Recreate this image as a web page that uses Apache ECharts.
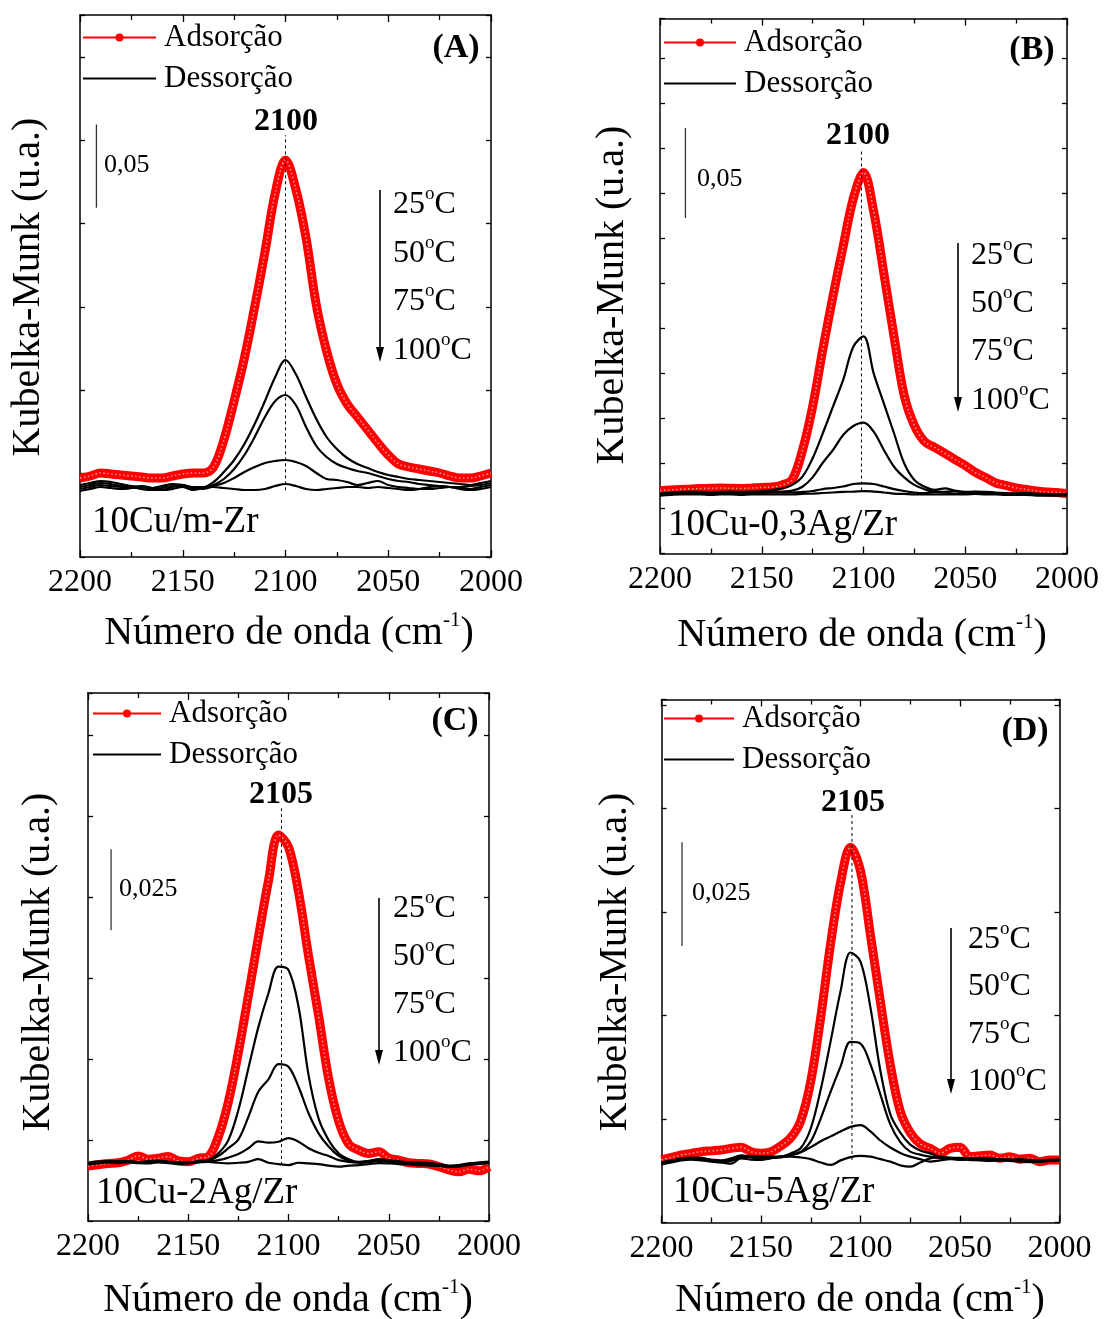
<!DOCTYPE html>
<html><head><meta charset="utf-8">
<script src="https://cdn.jsdelivr.net/npm/echarts/dist/echarts.min.js"></script>
<style>html,body{margin:0;padding:0;background:#fff}#c{width:1104px;height:1319px}</style>
</head><body><div id="c"></div>
<script>
// Wavenumber grid (cm^-1)
const wn = [2200,2195,2190,2185,2180,2175,2170,2165,2160,2155,2150,2145,2140,2135,2130,2125,2120,2115,2110,2105,2100,2095,2090,2085,2080,2075,2070,2065,2060,2055,2050,2045,2040,2035,2030,2025,2020,2015,2010,2005,2000];

// Intensities in 10^-3 Kubelka-Munk units
// (A) 10Cu/m-Zr
const adsA = [47.4,48.6,50.4,49.8,49.2,48.6,48.0,47.4,47.4,48.6,49.8,50.4,50.4,54.0,70.2,93.6,119.4,150.0,183.0,218.4,238.2,220.8,191.4,151.2,123.6,103.8,91.8,84.0,76.2,68.4,61.2,55.8,54.0,52.8,51.6,50.4,48.6,47.4,47.4,48.6,50.4];
const desA25 = [43.2,44.4,45.6,45,43.8,42.6,42,41.4,42.6,43.8,43.2,42,42,45,51,58.2,67.8,79.8,93.6,108,118.2,109.8,96,82.8,72,64.8,59.4,55.8,53.4,51,49.2,48,46.8,46.2,45.6,45,44.4,43.8,43.2,44.4,45.6];
const desA50 = [42,43.2,44.4,43.8,42.6,42,40.8,40.2,41.4,42.6,42,40.8,41.4,43.2,46.8,52.8,61.2,72,84,93.6,97.2,91.2,78,66.6,60,55.8,53.4,51.6,50.4,48.6,46.8,45.6,45,43.8,43.2,42.6,42,42,42.6,43.2,44.4];
const desA75 = [40.8,42,43.2,42.6,42,41.4,42,40.8,40.2,42,43.2,41.4,40.8,42.6,44.4,47.4,51,54,56.4,57.6,58.2,57,54.6,50.4,46.8,46.2,45,43.2,44.4,45.6,43.2,42,41.4,40.8,40.8,41.4,42,41.4,40.8,42,43.2];
const desA100 = [39.6,40.8,42,41.4,40.8,41.4,42.6,41.4,40.2,40.8,42,40.2,41.4,42,41.4,40.8,40.2,40.2,40.8,42.6,43.8,42.6,40.8,40.2,40.8,41.4,42,42,41.4,42,41.4,40.8,40.2,40.8,42,42.6,42,40.8,40.2,40.8,42];
// (B) 10Cu-0,3Ag/Zr
const adsB = [34.9,35.3,35.6,35.8,36.1,36.2,36.4,36.2,36.1,36.4,36.7,36.9,38.1,41.1,57.2,81.6,113.3,142.8,170.6,197.2,211.7,190,155.6,120.6,87.8,71.1,62.2,58.9,55.6,52.2,48.9,45,42.2,39.2,37.8,36.4,35.6,34.7,34.2,33.9,33.3];
const desB25 = [33.3,33.9,34.2,34.4,34.2,33.9,34.2,34.4,34.2,34.4,34.7,35.3,36.1,38.1,42.7,52.9,66.8,81.6,96.4,114.9,120.6,100.1,83.4,66.8,50.1,40.8,37.1,35.3,36.2,34.9,34.2,34.4,34.2,33.9,33.6,33.3,33.6,33.3,33.1,32.8,33.1];
const desB50 = [32.8,33.3,33.6,33.9,33.6,33.3,33.6,33.9,33.6,33.9,33.9,34.2,34.4,34.9,37.1,42.3,50.4,57.5,65.8,70.8,72.7,67.7,57.5,48.2,42.3,38.1,35.7,34.3,34.3,34.7,33.9,34.2,33.9,33.6,33.3,33.3,33.1,33.1,32.8,32.8,32.5];
const desB75 = [32.5,33.1,33.3,33.6,33.3,33.1,33.3,33.6,33.3,33.6,33.6,33.9,33.9,33.9,34.2,34.7,35.8,36.4,37.2,38.6,38.9,38.6,37.2,35.8,34.7,33.9,33.6,34.2,33.9,33.3,33.6,33.9,33.6,33.3,33.3,33.1,33.1,32.8,32.8,32.5,32.5];
const desB100 = [32.2,32.5,32.8,32.8,32.8,32.5,32.8,32.8,32.5,32.8,32.8,32.8,32.8,32.8,33.1,33.3,33.6,33.9,34.2,34.4,34.7,34.4,33.9,33.3,33.1,32.8,32.8,32.8,32.8,32.8,32.8,33.1,32.8,32.8,32.5,32.5,32.5,32.2,32.2,32.2,32.2];
// (C) 10Cu-2Ag/Zr
const adsC = [17.0,17.4,17.8,18.0,18.8,20.1,19.1,19.4,19.9,18.6,18.3,19.4,19.9,26.0,36.8,52.1,69.7,87.8,105.1,119.3,115.6,101.7,81.9,63.5,44.1,30.9,23.8,21.9,20.9,21.4,19.4,18.8,18.0,17.8,17.6,16.8,15.8,15.2,16.0,15.5,16.8];
const desC25 = [17.6,18.2,18.5,18.4,18.5,18.2,18.5,18.7,18.4,18.1,18.2,18.5,18.8,20.9,25.0,34.3,47.2,60.0,70.4,78.6,77.6,66.2,45.1,31.7,25.0,20.9,19.1,18.3,18.6,19.1,18.8,18.5,18.2,18.1,17.9,17.6,17.1,17.3,17.8,18.1,18.4];
const desC50 = [17.9,18.4,18.2,18.5,18.4,18.1,18.2,18.5,18.2,17.9,18.1,18.4,18.7,20.1,22.5,25.2,32.2,40.0,43.8,48.5,47.7,41.5,33.3,27.1,23.0,20.1,18.6,18.0,18.2,18.7,18.5,18.2,18.1,17.9,17.6,17.5,17.0,17.1,17.6,17.9,18.2];
const desC75 = [17.8,18.1,18.4,18.2,18.4,18.2,18.1,18.4,18.1,17.8,17.9,18.2,18.3,18.8,19.6,20.7,22.5,24.6,24.2,24.5,25.6,24.5,22.5,21.1,20.1,18.8,18.3,18.1,18.4,18.5,18.4,18.1,17.9,17.8,17.5,17.3,16.8,17.0,17.5,17.8,18.1];
const desC100 = [17.5,17.8,18.1,17.9,18.1,17.9,17.8,18.1,17.9,17.6,17.8,18.1,18.3,18.0,17.8,18.0,18.3,19.1,18.0,17.6,17.3,18.0,17.8,17.6,17.1,16.8,17.1,17.3,17.6,17.9,17.8,17.6,17.5,17.3,17.1,17.0,16.7,16.8,17.3,17.6,17.9];
// (D) 10Cu-5Ag/Zr
const adsD = [15.1,15.7,16.3,16.7,17.1,17.3,17.5,17.9,18.2,17.1,16.7,17.1,18.5,20.5,24.6,34.1,49.5,67.4,82.1,90.6,84.9,69.4,53.3,38.0,26.8,21.7,19.0,17.9,16.7,17.9,18.2,15.9,16.1,16.3,15.5,15.9,15.3,15.5,14.7,15.1,15.1];
const desD25 = [14.5,15.0,15.5,15.7,15.6,15.2,15.0,15.5,16.2,15.9,15.7,15.8,15.9,16.7,18.0,22.7,32.1,43.8,55.9,65.2,63.0,51.9,36.6,26.1,21.7,18.8,17.4,16.7,15.9,15.7,15.6,15.5,15.6,15.5,15.3,15.2,15.3,15.1,15.0,15.1,15.2];
const desD50 = [14.2,14.7,15.2,15.5,15.3,15.0,14.7,15.2,15.9,15.7,15.5,15.6,15.7,16.2,17.0,19.6,25.1,31.6,37.7,43.6,43.2,38.2,30.9,23.7,19.4,17.1,16.4,15.9,15.6,15.5,15.2,15.3,15.2,15.1,15.0,15.1,15.0,14.9,14.7,14.9,15.0];
const desD75 = [14.0,14.5,15.0,15.2,15.0,14.7,14.5,14.9,15.5,15.2,15.1,15.5,15.9,16.4,17.0,18.2,19.6,20.8,22.0,23.1,23.5,22.0,19.8,18.1,16.8,15.9,15.3,14.7,15.0,15.3,15.2,15.1,15.0,14.9,15.0,14.9,14.7,14.6,14.7,14.9,15.0];
const desD100 = [14.3,14.7,15.3,15.5,15.3,15.1,14.5,14.2,15.7,16.1,15.9,15.9,15.9,15.9,15.7,15.3,14.5,13.9,15.0,15.8,16.1,15.9,15.3,14.7,13.8,13.5,14.5,15.5,15.7,15.5,15.2,15.5,15.3,15.1,15.2,15.0,15.1,14.9,14.7,15.0,15.2];

const panelLetters = ['(A)','(B)','(C)','(D)'];
const sampleNames = ['10Cu/m-Zr','10Cu-0,3Ag/Zr','10Cu-2Ag/Zr','10Cu-5Ag/Zr'];
const peakLabels = ['2100','2100','2105','2105'];
const peakWn = [2100, 2101, 2103.5, 2104.3];
const scaleLen = [50, 50, 25, 25];
const scaleLabels = ['0,05','0,05','0,025','0,025'];
const temps = ['25','50','75','100'];
const legendNames = ['Adsorção','Dessorção'];
const xTitle = 'Número de onda (cm';
const yTitle = 'Kubelka-Munk (u.a.)';

const adsAll = [adsA, adsB, adsC, adsD];
const desAll = [[desA25,desA50,desA75,desA100],[desB25,desB50,desB75,desB100],[desC25,desC50,desC75,desC100],[desD25,desD50,desD75,desD100]];

// Layout (pixels) and annotation anchors
const L = [
 {grid:{left:80,top:15,width:411,height:542}, ymax:325.2, yint:50, bar:[2192,209.5], peakSpan:[40,253],
  leg:{left:82,top:22,w:73}, letter:[456,48], peak:[286,122], barTxt:[104,165],
  tx:393, ty:[205,254,302,351], ax:380, ay:[190,362], sample:[92,522], yt:[28,287], xt:[289,633]},
 {grid:{left:660,top:18.5,width:407,height:535}, ymax:297.2, yint:25, bar:[2187.5,186.4], peakSpan:[35,224],
  leg:{left:663,top:27,w:72}, letter:[1032,50], peak:[858,136], barTxt:[697,179],
  tx:971, ty:[256,304,352,401], ax:958, ay:[243,412], sample:[668,525], yt:[612,295], xt:[862,635]},
 {grid:{left:88,top:693,width:401,height:528}, ymax:163.2, yint:25, bar:[2188.5,89.9], peakSpan:[17.3,127.6],
  leg:{left:92,top:698,w:68}, letter:[455,721], peak:[281,795], barTxt:[119,889],
  tx:393, ty:[909,957,1005,1053], ax:379, ay:[898,1065], sample:[96,1193], yt:[38,962], xt:[288,1300]},
 {grid:{left:661.5,top:699.5,width:398,height:523}, ymax:126.3, yint:25, bar:[2189.7,66.8], peakSpan:[15.1,98.4],
  leg:{left:663,top:703,w:70}, letter:[1025,731], peak:[853,803], barTxt:[692,893],
  tx:968, ty:[940,987,1035,1082], ax:951, ay:[928,1094], sample:[673,1192], yt:[615,962], xt:[860,1300]}
];

const FONT = 'Liberation Serif';
const grid = [], xAxis = [], yAxis = [], series = [], legend = [], graphic = [];

L.forEach((l, i) => {
  grid.push(Object.assign({containLabel:false, outerBoundsMode:'none'}, l.grid));
  const xBase = {type:'value', gridIndex:i, min:2000, max:2200, interval:50, inverse:true,
    splitLine:{show:false}, minorSplitLine:{show:false},
    axisLine:{onZero:false, lineStyle:{color:'#000', width:1.5}},
    axisTick:{inside:true, length:7, lineStyle:{color:'#000', width:1.3}},
    minorTick:{show:true, splitNumber:2, length:5, lineStyle:{color:'#000', width:1.3}}};
  xAxis.push(Object.assign({}, xBase, {position:'bottom',
    axisLabel:{show:true, fontFamily:FONT, fontSize:32, color:'#000', margin:10, showMinLabel:true, showMaxLabel:true,
      formatter: v => String(v)}}));
  xAxis.push(Object.assign({}, xBase, {position:'top', axisLabel:{show:false}}));
  const yBase = {type:'value', gridIndex:i, min:0, max:l.ymax, interval:l.yint, splitLine:{show:false},
    axisLine:{show:true, onZero:false, lineStyle:{color:'#000', width:1.5}},
    axisTick:{show:true, inside:true, length:5, lineStyle:{color:'#000', width:1.3}},
    axisLabel:{show:false}};
  yAxis.push(Object.assign({}, yBase, {position:'left'}));
  yAxis.push(Object.assign({}, yBase, {position:'right'}));

  const adsData = wn.map((x,k)=>[x, adsAll[i][k]]);
  series.push({type:'line', name:legendNames[0], xAxisIndex:2*i, yAxisIndex:2*i,
    data: adsData, smooth:0.35, symbol:'circle', symbolSize:8, showSymbol:false,
    lineStyle:{color:'#ff0000', width:9}, itemStyle:{color:'#ff0000'}, z:2, silent:true});
  // highlight texture on the marker band (same data)
  series.push({type:'line', name:'adsHi'+i, xAxisIndex:2*i, yAxisIndex:2*i,
    data: adsData, smooth:0.35, symbol:'none',
    lineStyle:{color:'rgba(255,200,200,0.75)', width:1.6, type:[1.5,2.5]}, z:2, silent:true});
  desAll[i].forEach(arr => series.push({type:'line', name:legendNames[1], xAxisIndex:2*i, yAxisIndex:2*i,
    data: wn.map((x,k)=>[x, arr[k]]), smooth:0.35, symbol:'none',
    lineStyle:{color:'#000', width:2.2}, itemStyle:{color:'#000'}, z:3, silent:true}));
  series.push({type:'line', name:'peak'+i, xAxisIndex:2*i, yAxisIndex:2*i,
    data:[[peakWn[i], l.peakSpan[0]],[peakWn[i], l.peakSpan[1]]], symbol:'none',
    lineStyle:{type:[3,3], width:1, color:'#000'}, z:4, silent:true});
  series.push({type:'line', name:'bar'+i, xAxisIndex:2*i, yAxisIndex:2*i,
    data:[[l.bar[0], l.bar[1]],[l.bar[0], l.bar[1]+scaleLen[i]]], symbol:'none',
    lineStyle:{width:1.3, color:'#333'}, z:4, silent:true});

  legend.push({orient:'vertical', left:l.leg.left, top:l.leg.top, itemWidth:l.leg.w, itemHeight:10, itemGap:10,
    selectedMode:false, padding:0, lineStyle:{width:2},
    textStyle:{fontFamily:FONT, fontSize:31, color:'#000', padding:[0,0,0,3]},
    data:[{name:legendNames[0]}, {name:legendNames[1], itemStyle:{opacity:0}}]});

  const T = (x, y, text, st, extra) => Object.assign({type:'text', x:x, y:y, silent:true, z:100,
    style:Object.assign({text:text, fill:'#000', fontFamily:FONT, fontSize:32,
      textAlign:'left', align:'left', textVerticalAlign:'middle', verticalAlign:'middle'}, st)}, extra || {});
  const center = {textAlign:'center', align:'center'};
  graphic.push(T(l.letter[0], l.letter[1], panelLetters[i], Object.assign({fontSize:34, fontWeight:'bold'}, center)));
  graphic.push(T(l.peak[0], l.peak[1], peakLabels[i], Object.assign({fontSize:32, fontWeight:'bold'}, center)));
  graphic.push(T(l.barTxt[0], l.barTxt[1], scaleLabels[i], {fontSize:26}));
  graphic.push(T(l.sample[0], l.sample[1], sampleNames[i], {fontSize:37}));
  const supRich = {
    n:{fontSize:32, fontFamily:FONT, lineHeight:40, fill:'#000', color:'#000'},
    s:{fontSize:19, fontFamily:FONT, lineHeight:19, verticalAlign:'top', fill:'#000', color:'#000'}};
  temps.forEach((t, k) => graphic.push(T(l.tx, l.ty[k], '{n|'+t+'}{s|o}{n|C}', {rich:supRich})));
  graphic.push({type:'line', silent:true, z:100, shape:{x1:l.ax, y1:l.ay[0], x2:l.ax, y2:l.ay[1]-8},
    style:{stroke:'#000', lineWidth:1.6}});
  graphic.push({type:'polygon', silent:true, z:100, shape:{points:[[l.ax-4, l.ay[1]-15],[l.ax+4, l.ay[1]-15],[l.ax, l.ay[1]]]},
    style:{fill:'#000'}});
  const titleRich = {
    n:{fontSize:40, fontFamily:FONT, lineHeight:46, fill:'#000', color:'#000'},
    s:{fontSize:21, fontFamily:FONT, lineHeight:21, verticalAlign:'top', fill:'#000', color:'#000'}};
  graphic.push(T(l.xt[0], l.xt[1], '{n|'+xTitle+'}{s|-1}{n|)}', Object.assign({rich:titleRich}, center)));
  graphic.push(T(l.yt[0], l.yt[1], yTitle, Object.assign({fontSize:40}, center), {rotation:Math.PI/2}));
});

const chart = echarts.init(document.getElementById('c'), null, {renderer:'canvas', width:1104, height:1319});
chart.setOption({
  animation:false, backgroundColor:'#fff',
  grid, xAxis, yAxis, series, legend, graphic, tooltip:{show:false}
});
</script>
</body></html>
